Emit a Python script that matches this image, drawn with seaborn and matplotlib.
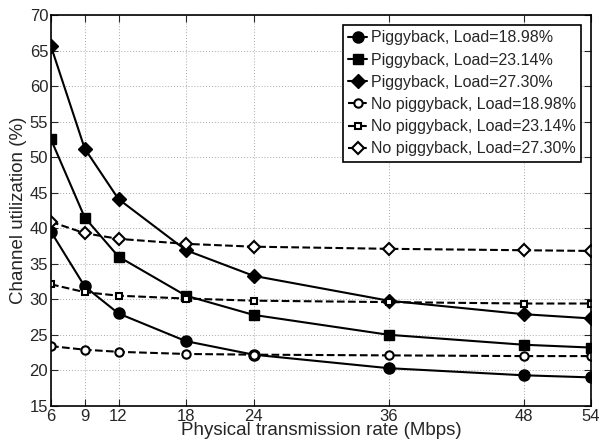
import numpy as np
import pandas as pd
import seaborn as sns
import matplotlib.pyplot as plt

rates = [6, 9, 12, 18, 24, 36, 48, 54]

pig_1898 = [39.5, 31.8, 28.0, 24.1, 22.2, 20.3, 19.3, 19.0]
pig_2314 = [52.5, 41.5, 36.0, 30.5, 27.8, 25.0, 23.6, 23.2]
pig_2730 = [65.6, 51.2, 44.1, 36.9, 33.3, 29.8, 27.9, 27.3]
nopig_1898 = [23.4, 22.9, 22.6, 22.3, 22.2, 22.1, 22.0, 22.0]
nopig_2314 = [32.1, 31.0, 30.5, 30.1, 29.8, 29.6, 29.4, 29.4]
nopig_2730 = [40.9, 39.3, 38.5, 37.8, 37.4, 37.1, 36.9, 36.8]

labels = ['Piggyback, Load=18.98%', 'Piggyback, Load=23.14%', 'Piggyback, Load=27.30%',
          'No piggyback, Load=18.98%', 'No piggyback, Load=23.14%', 'No piggyback, Load=27.30%']
series = [pig_1898, pig_2314, pig_2730, nopig_1898, nopig_2314, nopig_2730]
markers = ['o', 's', 'D', 'o', 's', 'D']
sizes = [8, 6.5, 7, 6, 4.5, 6]

sns.set_style('ticks')
plt.rcParams['font.family'] = ['Liberation Sans', 'DejaVu Sans']

fig = plt.figure(figsize=(6, 4.44), dpi=100)
ax = fig.add_axes([0.085, 0.086, 0.9, 0.88])

for lab, vals, m, ms in zip(labels, series, markers, sizes):
    df = pd.DataFrame({'rate': rates, 'util': vals})
    filled = lab.startswith('Piggyback')
    sns.lineplot(data=df, x='rate', y='util', ax=ax, color='black',
                 linestyle='-' if filled else '--', linewidth=1.5,
                 marker=m, markersize=ms,
                 markerfacecolor='black' if filled else 'white',
                 markeredgecolor='black', markeredgewidth=1.5 if not filled else 1,
                 label=lab)

ax.set_xlim(6, 54)
ax.set_ylim(15, 70)
ax.set_xticks(rates)
ax.set_yticks(range(15, 71, 5))
ax.grid(True, linestyle=(0, (1, 2)), color='#a8a8a8', linewidth=0.7)
ax.tick_params(labelsize=12, direction='in', length=5, top=True, right=True, pad=2)
for s in ax.spines.values():
    s.set_linewidth(1.2)
    s.set_color('black')
ax.set_xlabel('Physical transmission rate (Mbps)', fontsize=13.5, labelpad=-1)
ax.set_ylabel('Channel utilization (%)', fontsize=13.5, labelpad=2)

leg = ax.legend(loc='upper right', fontsize=11.5, frameon=True, fancybox=False,
                edgecolor='black', framealpha=1, handlelength=1.2,
                handletextpad=0.2, borderpad=0.35, labelspacing=0.45,
                borderaxespad=0, bbox_to_anchor=(0.982, 0.975))
leg.get_frame().set_linewidth(1.2)

fig.savefig('out.png', dpi=100)
